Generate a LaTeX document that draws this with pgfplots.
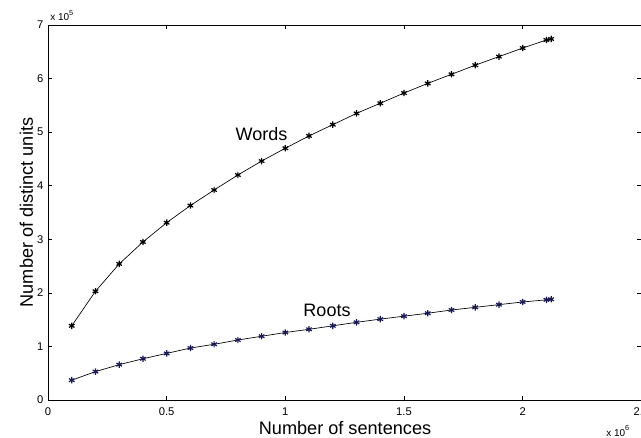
\documentclass[border=0pt]{standalone}
\usepackage{pgfplots}
\pgfplotsset{compat=1.18}
\usepackage{fontspec}
\setmainfont{Liberation Sans}
\begin{document}
\begin{tikzpicture}
\begin{axis}[
 at={(0,0)}, anchor=south west,
 scale only axis, width=445pt, height=281.25pt,
 xmin=0, xmax=2.5, ymin=0, ymax=7,
 xtick={0,0.5,1,1.5,2,2.5}, ytick={0,1,2,3,4,5,6,7},
 xticklabels={0,0.5,1,1.5,2,2.5},
 scaled ticks=false,
 tick align=inside, major tick length=3pt,
 tick style={line width=0.5pt,black},
 ticklabel style={font=\fontsize{8.4}{10}\selectfont},
 xticklabel style={yshift=-2pt},
 /pgf/number format/assume math mode=true,
 axis line style={line width=0.7pt},
 clip=false,
]
\addplot[black, line width=0.5pt, mark=asterisk, mark size=2.4pt, mark options={line width=0.9pt}] coordinates {
(0.1,1.385) (0.2,2.03) (0.3,2.54) (0.4,2.95) (0.5,3.31) (0.6,3.63) (0.7,3.92) (0.8,4.20) (0.9,4.46) (1.0,4.70)
(1.1,4.93) (1.2,5.14) (1.3,5.35) (1.4,5.54) (1.5,5.73) (1.6,5.91) (1.7,6.08) (1.8,6.25) (1.9,6.41) (2.0,6.57)
(2.1,6.72) (2.12,6.74)};
\addplot[black, line width=0.5pt, mark=asterisk, mark size=2.4pt, mark options={line width=0.9pt, color={rgb,255:red,25;green,25;blue,90}}] coordinates {
(0.1,0.37) (0.2,0.53) (0.3,0.66) (0.4,0.77) (0.5,0.87) (0.6,0.97) (0.7,1.04) (0.8,1.12) (0.9,1.19) (1.0,1.26)
(1.1,1.32) (1.2,1.385) (1.3,1.45) (1.4,1.51) (1.5,1.565) (1.6,1.62) (1.7,1.68) (1.8,1.73) (1.9,1.78) (2.0,1.83)
(2.1,1.87) (2.12,1.88)};
\end{axis}
\node[anchor=base, inner sep=0pt, font=\fontsize{13.6}{15}\selectfont] at (222.75pt,-26pt) {Number of sentences};
\node[rotate=90, anchor=base, inner sep=0pt, font=\fontsize{13.6}{15}\selectfont] at (-11.25pt,140.6pt) {Number of distinct units};
\node[anchor=base, inner sep=0pt, font=\fontsize{13.5}{15}\selectfont] at (160.1pt,195pt) {Words};
\node[anchor=base, inner sep=0pt, font=\fontsize{13.5}{15}\selectfont] at (209.25pt,63pt) {Roots};
\node[anchor=base west, inner sep=0pt, font=\fontsize{7.5}{9}\selectfont] at (1.5pt,284.5pt) {x 10\raisebox{4pt}{\fontsize{5.5}{6}\selectfont 5}};
\node[anchor=base west, inner sep=0pt, font=\fontsize{7.5}{9}\selectfont] at (418.5pt,-27pt) {x 10\raisebox{4pt}{\fontsize{5.5}{6}\selectfont 6}};
\pgfresetboundingbox
\useasboundingbox (-36pt,-27.75pt) rectangle (444.75pt,300pt);
\end{tikzpicture}
\end{document}
